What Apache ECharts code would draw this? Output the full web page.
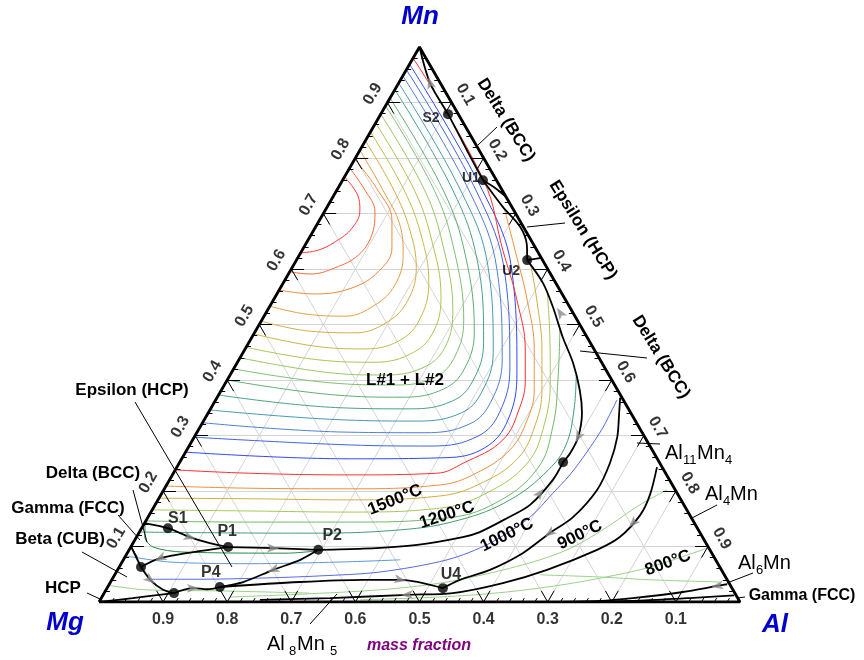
<!DOCTYPE html>
<html>
<head>
<meta charset="utf-8">
<script src="https://cdn.jsdelivr.net/npm/echarts@6/dist/echarts.min.js"></script>
<style>
  html, body { margin: 0; padding: 0; background: #fff; }
  #chart { width: 864px; height: 660px; }
</style>
</head>
<body>
<div id="chart"></div>
<script>
// every point is a composition [Al, Mn] in mass fraction, Mg = 1 - Al - Mn

// liquid miscibility gap isotherms (L#1 + L#2), inner to outer
const gapIsotherms = [
  [[0,.766],[.037,.733],[.054,.706],[.058,.674],[.044,.649],[.025,.634],[0,.629]],
  [[0,.782],[.044,.742],[.079,.703],[.095,.661],[.092,.625],[.067,.602],[.034,.591],[0,.595]],
  [[0,.798],[.064,.742],[.113,.688],[.138,.638],[.138,.595],[.112,.566],[.059,.555],[0,.562]],
  [[0,.814],[.072,.742],[.130,.679],[.162,.625],[.176,.571],[.163,.535],[.126,.515],[.062,.519],[0,.533]],
  [[0,.831],[.089,.742],[.150,.670],[.194,.602],[.210,.544],[.198,.505],[.157,.485],[.085,.488],[0,.506]],
  [[0,.847],[.105,.742],[.172,.661],[.226,.577],[.245,.517],[.236,.474],[.187,.456],[.106,.461],[0,.483]],
  [[0,.863],[.121,.742],[.193,.652],[.258,.551],[.278,.490],[.266,.450],[.214,.432],[.127,.436],[0,.459]],
  [[0,.879],[.137,.742],[.215,.643],[.289,.526],[.310,.463],[.298,.425],[.242,.409],[.146,.414],[0,.440]],
  [[0,.894],[.152,.742],[.237,.634],[.315,.508],[.334,.443],[.322,.405],[.266,.391],[.163,.395],[0,.420]],
  [[0,.908],[.166,.742],[.259,.625],[.342,.487],[.360,.420],[.346,.384],[.290,.369],[.182,.373],[0,.400]],
  [[0,.923],[.181,.742],[.282,.616],[.366,.468],[.384,.398],[.370,.362],[.311,.348],[.201,.350],[0,.373]],
  [[0,.935],[.193,.742],[.303,.607],[.390,.450],[.408,.378],[.395,.341],[.335,.326],[.220,.328],[0,.346]],
  [[0,.948],[.206,.742],[.322,.598],[.411,.436],[.431,.360],[.418,.321],[.356,.305],[.235,.306],[0,.323]],
  [[0,.959],[.217,.742],[.339,.589],[.430,.422],[.454,.342],[.442,.299],[.379,.281],[.250,.283],[0,.297]],
  [[0,.969],[.227,.742],[.345,.598],[.445,.414],[.474,.328],[.463,.278],[.410,.260],[.263,.258],[0,.270]],
  [[0,.980],[.220,.760],[.313,.634],[.380,.544],[.438,.454],[.465,.400],[.481,.351],[.484,.292],[.443,.250],[.411,.232],[.277,.229],[.119,.232],[0,.238]],
  [[.280,.706],[.332,.634],[.396,.544],[.452,.454],[.488,.382],[.504,.328],[.504,.274],[.471,.231],[.427,.211],[.290,.204],[.133,.205],[0,.209]],
  [[.366,.613],[.411,.544],[.464,.454],[.500,.382],[.521,.319],[.524,.259],[.488,.213],[.436,.191],[.300,.184],[.143,.186],[0,.187]],
  [[.418,.562],[.458,.490],[.504,.400],[.535,.319],[.543,.250],[.505,.195],[.447,.169],[.310,.162],[.154,.164],[0,.166]],
  [[.474,.490],[.516,.400],[.549,.319],[.564,.241],[.529,.178],[.464,.151],[.319,.144],[.163,.144],[0,.146]],
  [[.540,.409],[.568,.346],[.587,.283],[.582,.238],[.549,.184],[.489,.148],[.405,.130],[.251,.124],[0,.126]]
];
const gapColors = ['#ff3a3a','#ff6a3a','#f08a3c','#e2a042','#d4b042','#c4bc46','#b0c452','#98c862','#80c072',
  '#5fb072','#4aa28a','#4898b2','#5080d2','#4262e2','#3248f0','#ff3030','#f09040','#d0b040','#a8c858','#72b86a','#40a070'];

// isotherms in the other primary fields
const iso1000 = [[.626,.364],[.629,.314],[.626,.270],[.620,.229],[.610,.196],[.596,.153],[.557,.106],[.505,.076],[.411,.054],[.321,.047],[.229,.043],[.137,.041],[.059,.041]];
const iso900 = [[.785,.202],[.756,.175],[.725,.135],[.690,.099],[.650,.076],[.584,.052],[.515,.034],[.428,.022],[.306,.014],[.200,.009]];
const iso800 = [[.900,.097],[.858,.076],[.815,.058],[.722,.034],[.627,.018],[.527,.009],[.405,.004]];
const isoAlCorner = [[.950,.036],[.840,.040],[.759,.045],[.664,.049]];
const isoMgA = [[0,.144],[.013,.117],[.035,.099],[.086,.090],[.249,.088],[.294,.092]];
const isoMgB = [[0,.083],[.075,.072],[.201,.069],[.340,.072],[.432,.076]];
const isoMgC = [[0,.030],[.060,.022],[.180,.020],[.320,.016]];

// univariant lines (black)
const boundaries = [
  [[0,1],[.049,.935],[.105,.879],[.167,.814],[.219,.760]],
  [[.219,.760],[.245,.746],[.270,.730]],
  [[.219,.760],[.274,.712],[.319,.676],[.346,.643],[.360,.616]],
  [[.360,.616],[.380,.620]],
  [[.360,.616],[.405,.575],[.442,.532],[.485,.477],[.524,.431],[.559,.382],[.583,.341],[.599,.297],[.601,.268],[.598,.252]],
  [[.598,.252],[.598,.220],[.585,.175],[.561,.151],[.531,.126],[.509,.117],[.445,.103],[.364,.096],[.295,.094]],
  [[.295,.094],[.223,.097],[.152,.099]],
  [[0,.142],[.041,.133],[.083,.117],[.120,.106],[.152,.099]],
  [[.152,.099],[.102,.090],[.056,.079],[.034,.063]],
  [[.034,.063],[0,.100]],
  [[.034,.063],[.060,.040],[.089,.022],[.109,.016]],
  [[0,0],[.049,.007],[.109,.016]],
  [[.109,.016],[.134,.025],[.157,.023],[.175,.027]],
  [[.175,.027],[.207,.036],[.243,.058],[.276,.076],[.295,.094]],
  [[.175,.027],[.295,.036],[.392,.040],[.450,.040],[.524,.025]],
  [[.524,.025],[.543,.040],[.581,.058],[.617,.088],[.641,.124],[.663,.153],[.676,.202],[.672,.250],[.660,.297],[.641,.341],[.629,.368]],
  [[.749,.243],[.763,.193],[.766,.157],[.754,.117],[.730,.094],[.670,.058],[.613,.034],[.544,.016],[.474,.013],[.357,.007],[.249,.004]],
  [[.964,.032],[.950,.029],[.902,.018],[.829,.007],[.781,.002],[.687,0]],
  [[.985,.012],[.930,.008],[.850,.003],[.750,0]]
];

// invariant points
const pointNames = ['S1','P1','P2','P4','U4','S2','U1','U2','','',''];
const pointComp = [[.041,.133],[.152,.099],[.295,.094],[.175,.027],[.524,.025],[.105,.879],[.219,.760],[.360,.616],[.598,.252],[.034,.063],[.109,.016]];

// direction arrows on the lines: [at, toward]
const arrows = [
  [[.083,.117],[.152,.099]], [[.223,.097],[.295,.094]], [[.056,.079],[.034,.063]],
  [[.060,.040],[.089,.022]], [[.134,.025],[.175,.027]], [[.243,.058],[.207,.036]],
  [[.450,.040],[.524,.025]], [[.474,.013],[.357,.007]], [[.641,.124],[.617,.088]],
  [[.599,.297],[.601,.268]], [[.590,.196],[.598,.252]], [[.762,.142],[.754,.117]],
  [[.049,.935],[0,1]], [[.459,.521],[.360,.616]], [[.950,.029],[.902,.018]]
];

// tick labels
const mgTicks = ['0.9','0.8','0.7','0.6','0.5','0.4','0.3','0.2','0.1'];
const mnTicks = ['0.1','0.2','0.3','0.4','0.5','0.6','0.7','0.8','0.9'];
const alTicks = ['0.1','0.2','0.3','0.4','0.5','0.6','0.7','0.8','0.9'];

const GW = 641, GH = 555;
const tc = p => [p[0] + p[1] / 2, p[1]];
const FONT = 'Arial, "Liberation Sans", sans-serif';

function lineSeries(pts, color, width, z, smooth) {
  return {
    type: 'line', data: pts.map(tc), symbol: 'none', showSymbol: false,
    smooth: smooth, lineStyle: { color: color, width: width }, z: z, silent: true
  };
}

const gridSegs = [];
const tickSegs = [];
for (let i = 1; i < 10; i++) {
  const f = i / 10;
  gridSegs.push([[0, f], [1 - f, f]]);
  gridSegs.push([[f, 0], [f, 1 - f]]);
  gridSegs.push([[1 - f, 0], [0, 1 - f]]);
}
for (let i = 1; i < 50; i++) {
  const f = i / 50;
  const major = i % 5 === 0;
  const L = major ? 0.02 : 0.007;
  tickSegs.push([[0, f], [L, f]]);
  tickSegs.push([[f, 0], [f, L]]);
  tickSegs.push([[f, 1 - f], [f - L, 1 - f]]);
  if (major) {
    tickSegs.push([[0, f], [L, f - L]]);
    tickSegs.push([[f, 0], [f - L, L]]);
    tickSegs.push([[f, 1 - f], [f, 1 - f - L]]);
  }
}

function angle(a, b) {
  const pa = tc(a), pb = tc(b);
  return Math.atan2((pb[1] - pa[1]) * GH, (pb[0] - pa[0]) * GW) * 180 / Math.PI;
}

const series = [];
series.push({
  type: 'lines', coordinateSystem: 'cartesian2d', silent: true, z: 1,
  data: gridSegs.map(s => ({ coords: s.map(tc) })),
  lineStyle: { color: '#d4d4d4', width: 1, opacity: 1 }
});
gapIsotherms.forEach((c, i) => series.push(lineSeries(c, gapColors[i], 1, 2, 0.4)));
series.push(lineSeries(iso1000, '#5468e8', 1, 2, 0.3));
series.push(lineSeries(iso900, '#9ad28a', 1, 2, 0.3));
series.push(lineSeries(iso800, '#9ad28a', 1, 2, 0.3));
series.push(lineSeries(isoAlCorner, '#9ad28a', 1, 2, 0.3));
series.push(lineSeries(isoMgA, '#208a48', 1, 2, 0.3));
series.push(lineSeries(isoMgB, '#5a9ad8', 1, 2, 0.3));
series.push(lineSeries(isoMgC, '#9ad28a', 1, 2, 0.3));
series.push({
  type: 'lines', coordinateSystem: 'cartesian2d', silent: true, z: 4,
  data: tickSegs.map(s => ({ coords: s.map(tc) })),
  lineStyle: { color: '#000', width: 1, opacity: 1 }
});
boundaries.forEach(b => series.push(lineSeries(b, '#000', 1.8, 5, 0.3)));
series.push(lineSeries([[0,0],[1,0],[0,1],[0,0]], '#000', 2.8, 6, false));
series.push({
  type: 'scatter', z: 7, silent: true,
  symbol: 'path://M0,0L12,5L0,10L3,5Z', symbolSize: [12, 9],
  itemStyle: { color: '#8a8a8a' },
  data: arrows.map(a => ({ value: tc(a[0]), symbolRotate: angle(a[0], a[1]) }))
});
const labelOffsets = [[10,-10],[-1,-15],[14,-14],[-9,-14],[8,-14],[-17,4],[-12,-2],[-16,11],[0,0],[0,0],[0,0]];
series.push({
  type: 'scatter', z: 8, silent: true, symbolSize: 10,
  itemStyle: { color: '#000' },
  data: pointComp.map((p, i) => ({
    value: tc(p), name: pointNames[i],
    label: {
      show: pointNames[i] !== '', formatter: pointNames[i], position: 'inside',
      offset: labelOffsets[i], color: '#000', fontWeight: 'bold',
      fontSize: i >= 5 ? 14 : 16, fontFamily: FONT
    }
  }))
});
const tickLabel = { show: true, position: 'inside', color: '#000', fontWeight: 'bold', fontSize: 16, fontFamily: FONT };
series.push({
  type: 'scatter', z: 8, silent: true, symbolSize: 0,
  data: mgTicks.map((t, i) => ({
    value: tc([(i + 1) / 10, 0]),
    label: Object.assign({}, tickLabel, { formatter: t, offset: [0, 18] })
  })).concat(mnTicks.map((t, i) => ({
    value: tc([0, (i + 1) / 10]),
    label: Object.assign({}, tickLabel, { formatter: t, offset: [0, -17], rotate: 60 })
  }))).concat(alTicks.map((t, i) => ({
    value: tc([(i + 1) / 10, 1 - (i + 1) / 10]),
    label: Object.assign({}, tickLabel, { formatter: t, offset: [0, -16], rotate: -60 })
  })))
});

function txt(text, x, y, font, color, deg) {
  return {
    type: 'text', x: x, y: y, silent: true, z: 20, rotation: (deg || 0) * Math.PI / 180,
    style: { text: text, font: font, fill: color || '#000', textAlign: 'center', textVerticalAlign: 'middle' }
  };
}
function ltxt(text, x, y, size) {
  return {
    type: 'text', x: x, y: y, silent: true, z: 20,
    style: { text: text, font: size + 'px ' + FONT, fill: '#000', textAlign: 'left', textVerticalAlign: 'bottom' }
  };
}
function seg(x1, y1, x2, y2) {
  return { type: 'line', silent: true, z: 19, shape: { x1: x1, y1: y1, x2: x2, y2: y2 }, style: { stroke: '#000', lineWidth: 1 } };
}

const B17 = 'bold 17px ' + FONT;
const B16 = 'bold 16px ' + FONT;
const corner = 'italic bold 26px ' + FONT;
const BLUE = '#0000cc';
const graphic = [
  txt('Mn', 420, 17, corner, BLUE), txt('Mg', 65, 623, corner, BLUE), txt('Al', 775, 625, corner, BLUE),
  txt('mass fraction', 419, 646, 'italic bold 16px ' + FONT, '#800080'),
  txt('Epsilon (HCP)', 132, 390, B17), txt('Delta (BCC)', 93, 473, B17),
  txt('Gamma (FCC)', 68, 508, B17), txt('Beta (CUB)', 60, 539, B17), txt('HCP', 63, 588, B17),
  txt('L#1 + L#2', 405, 380, B17), txt('Gamma (FCC)', 802, 596, B16),
  txt('Delta (BCC)', 506, 120, B17, null, -58), txt('Epsilon (HCP)', 583, 230, B17, null, -58),
  txt('Delta (BCC)', 661, 357, B17, null, -58),
  txt('1500°C', 395, 500, B17, null, 22), txt('1200°C', 447, 515, B17, null, 18),
  txt('1000°C', 507, 535, B17, null, 26), txt('900°C', 580, 535, B17, null, 26),
  txt('800°C', 668, 563, B17, null, 20),
  ltxt('Al', 665, 463, 20), ltxt('11', 683, 467, 13), ltxt('Mn', 697, 463, 20), ltxt('4', 725, 467, 13),
  ltxt('Al', 705, 504, 20), ltxt('4', 723, 508, 13), ltxt('Mn', 730, 504, 20),
  ltxt('Al', 738, 573, 20), ltxt('6', 756, 577, 13), ltxt('Mn', 763, 573, 20),
  ltxt('Al', 267, 654, 20), ltxt('8', 289, 658, 13), ltxt('Mn', 297, 654, 20), ltxt('5', 330, 658, 13),
  seg(135, 402, 232, 567), seg(133, 490, 147, 542), seg(118, 515, 140, 540), seg(82, 552, 127, 577),
  seg(87, 593, 100, 599), seg(310, 624, 337, 594), seg(497, 127, 478, 145), seg(527, 227, 565, 223),
  seg(580, 351, 647, 358), seg(637, 443, 660, 444), seg(692, 518, 717, 505), seg(727, 583, 753, 573),
  seg(737, 598, 745, 597)
];

const chart = echarts.init(document.getElementById('chart'), null, { renderer: 'canvas' });
chart.setOption({
  animation: false,
  backgroundColor: '#fff',
  grid: { left: 99, top: 47, width: GW, height: GH },
  xAxis: { type: 'value', min: 0, max: 1, show: false },
  yAxis: { type: 'value', min: 0, max: 1, show: false },
  series: series,
  graphic: graphic
});
</script>
</body>
</html>
